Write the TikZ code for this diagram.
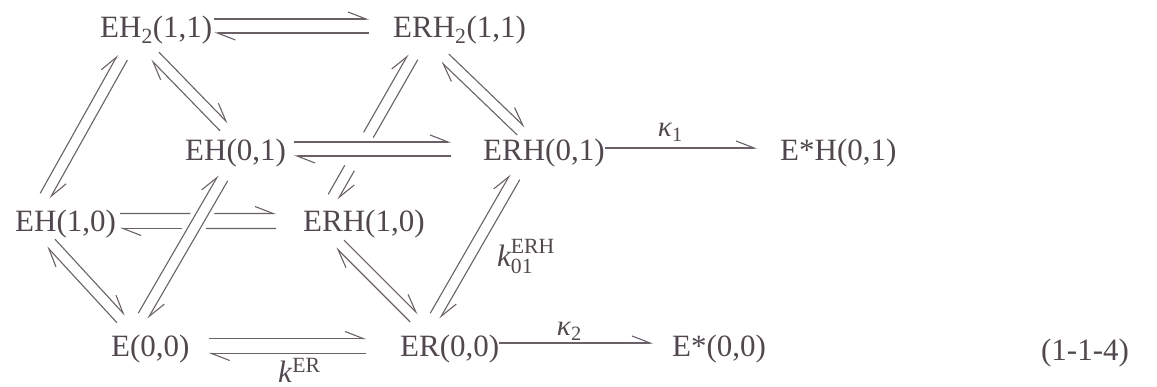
\documentclass[tikz,border=0pt]{standalone}
\usepackage{amsmath}
\usepackage{fontspec}
\setmainfont{Liberation Serif}
\usetikzlibrary{arrows.meta,calc}
\definecolor{txtcol}{RGB}{80,72,78}
\definecolor{lncol}{RGB}{105,97,103}
\tikzset{
  harp/.style={draw=lncol, line width=1.1pt, -{Straight Barb[left,length=18pt,width=14pt]}},
  plainln/.style={draw=lncol, line width=1.1pt},
  chem/.style={inner sep=0pt, anchor=base west, text=txtcol, font=\fontsize{31}{36}\selectfont},
  lbl/.style={inner sep=0pt, text=txtcol, font=\fontsize{29}{34}\selectfont}
}
% pair of opposite harpoons: #1 offset, #2 start, #3 end
\newcommand\rxpair[3]{%
  \draw[harp] ($(#2)!#1!90:(#3)$) -- ($(#3)!#1!-90:(#2)$);
  \draw[harp] ($(#3)!#1!90:(#2)$) -- ($(#2)!#1!-90:(#3)$);
}
% pair with a gap in each line (fractions measured from #2)
\newcommand\gpair[7]{%
  \coordinate (g1a) at ($(#2)!#1!90:(#3)$);
  \coordinate (g1b) at ($(#3)!#1!-90:(#2)$);
  \coordinate (g2a) at ($(#3)!#1!90:(#2)$);
  \coordinate (g2b) at ($(#2)!#1!-90:(#3)$);
  \draw[plainln] (g1a) -- ($(g1a)!#4!(g1b)$);
  \draw[harp] ($(g1a)!#5!(g1b)$) -- (g1b);
  \draw[plainln] (g2a) -- ($(g2b)!#7!(g2a)$);
  \draw[harp] ($(g2b)!#6!(g2a)$) -- (g2b);
}
\begin{document}
\begin{tikzpicture}[x=1pt,y=-1pt]
\useasboundingbox (0,0) rectangle (1157,387);
% species
\node[chem] (EH2)   at (100,38)  {EH\textsubscript{2}(1,1)};
\node[chem] (ERH2)  at (393,38)  {ERH\textsubscript{2}(1,1)};
\node[chem] (EH01)  at (185,161) {EH(0,1)};
\node[chem] (ERH01) at (483,161) {ERH(0,1)};
\node[chem] (EsH01) at (780,161) {E*H(0,1)};
\node[chem] (EH10)  at (15,232)  {EH(1,0)};
\node[chem] (ERH10) at (303,232) {ERH(1,0)};
\node[chem] (E00)   at (111,357) {E(0,0)};
\node[chem] (ER00)  at (400,357) {ER(0,0)};
\node[chem] (Es00)  at (672,357) {E*(0,0)};
\node[chem, anchor=base] (eqno) at (1085,360) {(1-1-4)};
% horizontal pair ends
\coordinate (r1a) at ($(EH2.base east)+(2,-12)$);
\coordinate (r1b) at ($(ERH2.base west)+(-24,-12)$);
\coordinate (r2a) at ($(EH01.base east)+(8,-12)$);
\coordinate (r2b) at ($(ERH01.base west)+(-32,-12)$);
\coordinate (r3a) at ($(EH10.base east)+(4,-11)$);
\coordinate (r3b) at ($(ERH10.base west)+(-27,-11)$);
\coordinate (r4a) at ($(E00.base east)+(19,-11)$);
\coordinate (r4b) at ($(ER00.base west)+(-34,-11)$);
% diagonal pair ends
\coordinate (A1) at ($(EH10.base west)+(30,-36)$);
\coordinate (A2) at ($(EH2.base west)+(22.5,19.5)$);
\coordinate (B1) at ($(EH01.base west)+(39,-34)$);
\coordinate (B2) at ($(EH2.base west)+(55,18)$);
\coordinate (C1) at ($(ERH01.base west)+(38,-30)$);
\coordinate (C2) at ($(ERH2.base west)+(52,20)$);
\coordinate (D1) at ($(ERH10.base west)+(30,-35)$);
\coordinate (D2) at ($(ERH2.base west)+(20,19)$);
\coordinate (E1) at ($(E00.base west)+(32,-41)$);
\coordinate (E2) at ($(EH01.base west)+(38,17)$);
\coordinate (F1) at ($(E00.base west)+(10,-38)$);
\coordinate (F2) at ($(EH10.base west)+(36,11)$);
\coordinate (G1) at ($(ER00.base west)+(14,-39)$);
\coordinate (G2) at ($(ERH10.base west)+(37,12)$);
\coordinate (H1) at ($(ER00.base west)+(35,-41)$);
\coordinate (H2) at ($(ERH01.base west)+(32,16)$);
% equilibria
\rxpair{7pt}{r1a}{r1b}
\rxpair{7pt}{r2a}{r2b}
\gpair{7.5pt}{r3a}{r3b}{0.451}{0.605}{0.396}{0.550}
\rxpair{7.5pt}{r4a}{r4b}
\rxpair{5.5pt}{A1}{A2}
\rxpair{5.5pt}{B1}{B2}
\rxpair{5.5pt}{C1}{C2}
\gpair{5.5pt}{D1}{D2}{0.207}{0.443}{0.207}{0.443}
\rxpair{5.5pt}{E1}{E2}
\rxpair{5.5pt}{F1}{F2}
\rxpair{5.5pt}{G1}{G2}
\rxpair{5.5pt}{H1}{H2}
% irreversible steps
\draw[harp] ($(ERH01.base east)+(0,-13)$) -- node[lbl, pos=0.43, anchor=base, yshift=11pt] (k1) {\textit{κ}\textsubscript{1}} ($(EsH01.base west)+(-23,-13)$);
\draw[harp] ($(ER00.base east)+(0,-14)$) -- node[lbl, pos=0.455, anchor=base, yshift=7pt] (k2) {\textit{κ}\textsubscript{2}} ($(Es00.base west)+(-19,-14)$);
% rate constant labels
\node[chem] (kER) at (278,382) {\textit{k}\textsuperscript{ER}};
\node[chem] (kERH) at (497,267) {$\textit{k}^{\text{ERH}}_{\text{01}}$};
\end{tikzpicture}
\end{document}
